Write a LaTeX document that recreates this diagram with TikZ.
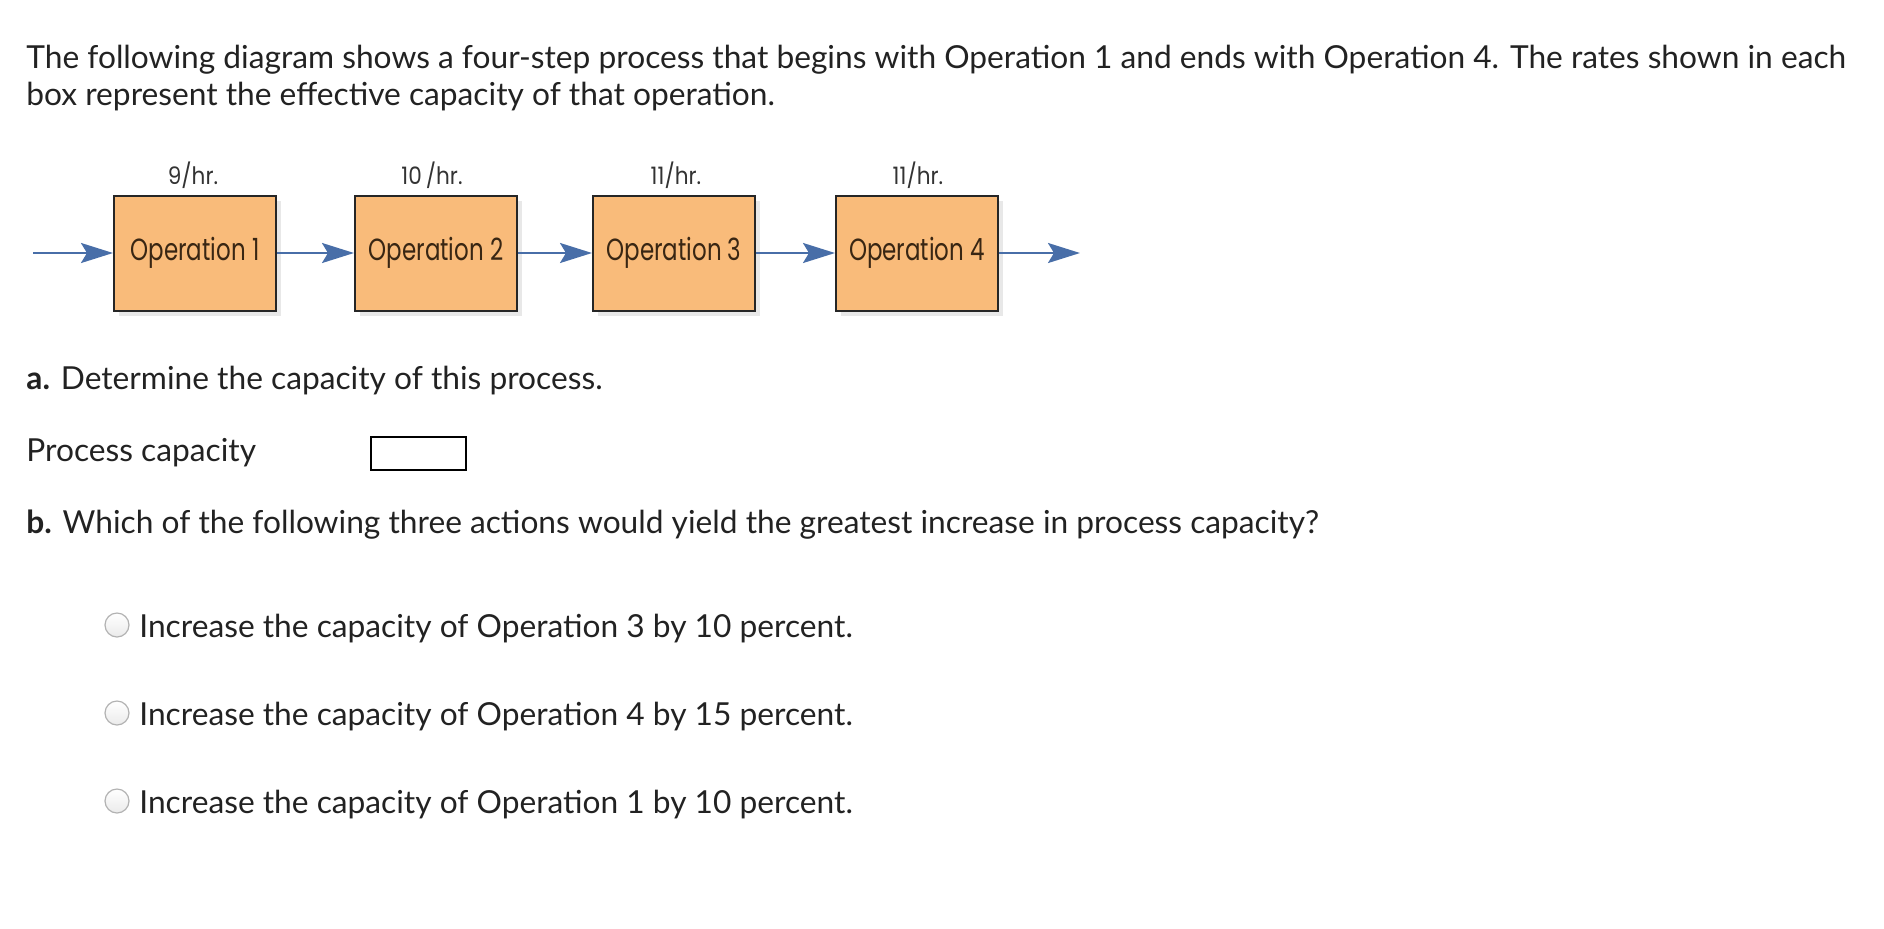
\documentclass[tikz,border=0pt]{standalone}
\usepackage{fontspec}
\setmainfont{Lato}
\newfontfamily\opfont[FakeStretch=0.75]{Poppins}
\newfontfamily\ratefont[FakeStretch=0.9]{Poppins}
\usetikzlibrary{shadows}
\usetikzlibrary{arrows.meta}
\definecolor{opfill}{RGB}{249,187,122}
\definecolor{flowblue}{RGB}{72,110,168}
\definecolor{qtxt}{RGB}{34,34,34}

\begin{document}
\begin{tikzpicture}[x=0.5pt,y=-0.5pt,
		qtext/.style={anchor=base west,inner sep=0pt,text=qtxt,font=\fontsize{15.85}{19}\selectfont},
		opbox/.style={draw=black!85,line width=1pt,fill=opfill,minimum width=81pt,minimum height=57.5pt,inner sep=0pt,text=brown!30!black,font=\opfont\fontsize{15.3}{18}\selectfont,drop shadow={shadow xshift=2.5pt,shadow yshift=-2.5pt,fill=black!18}},
		rate/.style={anchor=base,inner sep=0pt,text=black!80,font=\ratefont\fontsize{12}{14}\selectfont},
		flow/.style={flowblue,line width=1.2pt,-{Stealth[length=16pt,width=10pt,inset=3pt]}},
		radio/.style={circle,draw=black!30,line width=0.6pt,minimum size=12pt,inner sep=0pt,top color=white,bottom color=black!8},
		ansbox/.style={draw=black,line width=1pt,minimum width=47.5pt,minimum height=16.5pt,inner sep=0pt}]
				
				\useasboundingbox (0,0) rectangle (1884,928);
				
				\node[qtext] (T1) at (26,68) {The following diagram shows a four-step process that begins with Operation 1 and ends with Operation 4. The rates shown in each};
				\node[qtext] (T2) at (26,105) {box represent the effective capacity of that operation.};
				
				\node[opbox] (Op1) at (195,253) {Operation 1};
				\node[opbox] (Op2) at (436,253) {Operation 2};
				\node[opbox] (Op3) at (674,253) {Operation 3};
				\node[opbox] (Op4) at (917,253) {Operation 4};
				
				\node[rate] (R1) at (193,184) {9/hr.};
				\node[rate] (R2) at (432,184) {10\,/hr.};
				\node[rate] (R3) at (676,184) {11/hr.};
				\node[rate] (R4) at (918,184) {11/hr.};
				
				\coordinate (In) at (33,253);
				\coordinate (Out) at (1080,253);
				
				\draw[flow] (In) -- (Op1);
				\draw[flow] (Op1) -- (Op2);
				\draw[flow] (Op2) -- (Op3);
				\draw[flow] (Op3) -- (Op4);
				\draw[flow] (Op4) -- (Out);
				
				\node[qtext] (QA) at (26,389) {\textbf{a.} Determine the capacity of this process.};
				\node[qtext] (PC) at (26,461) {Process capacity};
				\node[ansbox] (Ans) at (418,453) {};
				
				\node[qtext] (QB) at (26,533) {\textbf{b.} Which of the following three actions would yield the greatest increase in process capacity?};
				
				\node[radio] (C1) at (117,625) {};
				\node[qtext] (A1) at (139,637) {Increase the capacity of Operation 3 by 10 percent.};
				\node[radio] (C2) at (117,713) {};
				\node[qtext] (A2) at (139,725) {Increase the capacity of Operation 4 by 15 percent.};
				\node[radio] (C3) at (117,801) {};
				\node[qtext] (A3) at (139,813) {Increase the capacity of Operation 1 by 10 percent.};
				
			\end{tikzpicture}
\end{document}
